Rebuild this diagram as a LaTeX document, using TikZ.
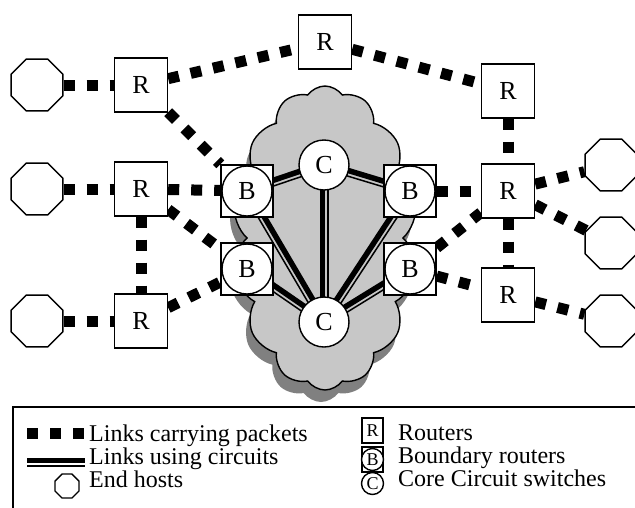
\documentclass[tikz,border=0pt]{standalone}
\usepackage{fontspec}
\setmainfont{Liberation Serif}
\usetikzlibrary{shapes.geometric,shapes.symbols,calc,backgrounds}
\tikzset{
  bw/.style={line width=1.4pt},
  router/.style={draw, bw, fill=white, minimum width=53pt, minimum height=54pt, inner sep=0pt, font=\fontsize{26}{26}\selectfont},
  host/.style={draw, bw, fill=white, regular polygon, regular polygon sides=8, minimum size=56pt, inner sep=0pt},
  core/.style={draw, bw, fill=white, circle, minimum size=50pt, inner sep=0pt, font=\fontsize{26}{26}\selectfont},
  bsq/.style={draw, bw, fill=white, minimum size=52pt, inner sep=0pt},
  packet/.style={line width=11pt, dash pattern=on 11pt off 12pt},
  lbl/.style={anchor=base west, inner sep=0pt, text height=15pt, text depth=4pt, font=\fontsize{24}{24}\selectfont},
  cloudbase/.style={cloud, cloud puffs=14, cloud puff arc=110, aspect=0.62, minimum width=186pt, minimum height=304pt, inner sep=0pt},
}
\newcommand{\circlink}[4]{%
  \draw[line width=5.5pt] ($(#1)!1.75pt!#3:(#2)$) -- ($(#2)!1.75pt!#4:(#1)$);
  \draw[line width=1.5pt] ($(#1)!3.75pt!#4:(#2)$) -- ($(#2)!3.75pt!#3:(#1)$);}
\begin{document}
\begin{tikzpicture}[x=1pt,y=-1pt]
\useasboundingbox (0,0) rectangle (635,507);
% hosts
\node[host] (oL1) at (37,85) {};
\node[host] (oL2) at (37,189) {};
\node[host] (oL3) at (37,321) {};
\node[host] (oR1) at (611,165) {};
\node[host] (oR2) at (611,243) {};
\node[host] (oR3) at (611,321) {};
% routers
\node[router] (RL1) at (141,85) {R};
\node[router] (RL2) at (141,189) {R};
\node[router] (RL3) at (141,321) {R};
\node[router] (RT) at (325,42) {R};
\node[router] (RR1) at (508,91) {R};
\node[router] (RR2) at (508,191) {R};
\node[router] (RR3) at (508,295) {R};
% boundary routers
\node[bsq] (BL1) at (247,191) {};
\node[core] (BL1c) at (BL1) {B};
\node[bsq] (BL2) at (247,269) {};
\node[core] (BL2c) at (BL2) {B};
\node[bsq] (BR1) at (410,191) {};
\node[core] (BR1c) at (BR1) {B};
\node[bsq] (BR2) at (410,269) {};
\node[core] (BR2c) at (BR2) {B};
% core switches
\node[core] (CT) at (324,165) {C};
\node[core] (CB) at (324,322) {C};
\begin{pgfonlayer}{background}
  \node[cloudbase, fill=black!50] (shadow) at (321,250) {};
  \node[cloudbase, draw, bw, fill=black!22] (cloud) at (325,238) {};
  % packet links
  \draw[packet] (oL1) -- (RL1);
  \draw[packet] (oL2) -- (RL2);
  \draw[packet] (oL3) -- (RL3);
  \draw[packet] (RL1) -- (RT);
  \draw[packet] (RT) -- (RR1);
  \draw[packet] (RL1) -- (BL1);
  \draw[packet] (RL2) -- (BL1);
  \draw[packet] (RL2) -- (BL2);
  \draw[packet] (RL2) -- (RL3);
  \draw[packet] (RL3) -- (BL2);
  \draw[packet] (BR1) -- (RR2);
  \draw[packet] (BR2) -- (RR2);
  \draw[packet] (BR2) -- (RR3);
  \draw[packet] (RR1) -- (RR2);
  \draw[packet] (RR2) -- (RR3);
  \draw[packet] (RR2) -- (oR1);
  \draw[packet] (RR2) -- (oR2);
  \draw[packet] (RR3) -- (oR3);
  % circuit links
  \circlink{BL1}{CT}{90}{-90}
  \circlink{CT}{BR1}{90}{-90}
  \circlink{CT}{CB}{-90}{90}
  \circlink{BL1}{CB}{90}{-90}
  \circlink{BR1}{CB}{-90}{90}
  \circlink{BL2}{CB}{90}{-90}
  \circlink{BR2}{CB}{-90}{90}
\end{pgfonlayer}
% legend
\draw[bw] (13,515) -- (13,407) -- (645,407);
\coordinate (p1) at (27,433);
\coordinate (p2) at (84,433);
\draw[packet] (p1) -- (p2);
\node[lbl] (t1) at (89,441) {Links carrying packets};
\coordinate (c1) at (27,462);
\coordinate (c2) at (85,462);
\circlink{c1}{c2}{90}{-90}
\node[lbl] (t2) at (89,464) {Links using circuits};
\node[host, minimum size=26pt] (lo) at (67,486) {};
\node[lbl] (t3) at (89,487) {End hosts};
\node[draw, bw, minimum width=21pt, minimum height=25pt, inner sep=0pt, font=\fontsize{18}{18}\selectfont] (lR) at (372.5,430.5) {R};
\node[lbl] (t4) at (398,440) {Routers};
\node[draw, bw, minimum width=21pt, minimum height=25pt, inner sep=0pt] (lBs) at (372.5,459.5) {};
\node[draw, bw, circle, fill=white, minimum size=22pt, inner sep=0pt, font=\fontsize{18}{18}\selectfont] (lB) at (372.5,459.5) {B};
\node[lbl] (t5) at (398,463) {Boundary routers};
\node[draw, bw, circle, minimum size=22pt, inner sep=0pt, font=\fontsize{18}{18}\selectfont] (lC) at (372.5,483.5) {C};
\node[lbl] (t6) at (398,486) {Core Circuit switches};
\end{tikzpicture}
\end{document}
